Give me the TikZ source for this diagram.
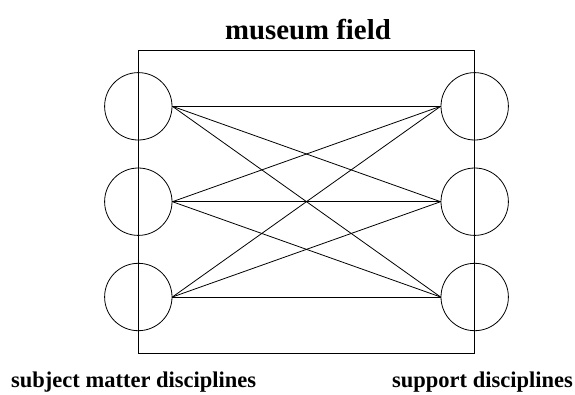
\documentclass[tikz,border=0pt]{standalone}
\usepackage{fontspec}
\setmainfont{Liberation Serif}
\begin{document}
\begin{tikzpicture}[x=1pt,y=-1pt,
  disc/.style={draw, circle, minimum size=67.4pt, inner sep=0pt, line width=0.8pt},
  link/.style={line width=0.8pt},
  field/.style={draw, line width=0.8pt},
  caption/.style={inner sep=0pt, font=\bfseries\fontsize{22.5}{27}\selectfont},
  heading/.style={inner sep=0pt, font=\bfseries\fontsize{28.8}{34}\selectfont}]
  \useasboundingbox (0,0) rectangle (575,394);
  % museum field frame
  \node[field, inner sep=0pt, minimum width=336.4pt, minimum height=302.7pt] (frame) at (306.5,201.65) {};
  % subject matter disciplines (left) and support disciplines (right)
  \foreach \i/\y in {1/106.3, 2/201.7, 3/297} {
    \node[disc] (L\i) at (138.3,\y) {};
    \node[disc] (R\i) at (474.7,\y) {};
  }
  % every subject discipline linked to every support discipline
  \foreach \i in {1,2,3} {
    \foreach \j in {1,2,3} {
      \draw[link] (L\i.east) -- (R\j.west);
    }
  }
  \node[heading, anchor=base] (title) at (308,39) {museum field};
  \node[caption, anchor=base west] (subj) at (11,387) {subject matter disciplines};
  \node[caption, anchor=base east] (supp) at (573,387) {support disciplines};
\end{tikzpicture}
\end{document}
